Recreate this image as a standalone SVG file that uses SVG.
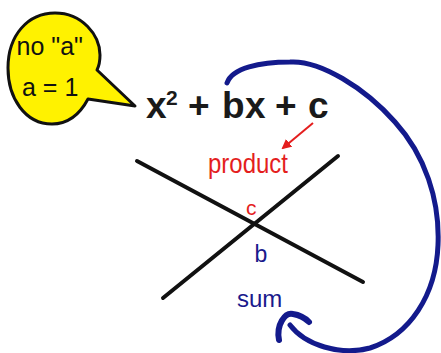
<svg xmlns="http://www.w3.org/2000/svg" width="441" height="353" viewBox="0 0 441 353">
  <defs>
    <style>
      .sans { font-family: "Liberation Sans", Arial, sans-serif; }
      .bubbletxt { font-size: 25px; fill: #111; }
      .eq { font-size: 37px; font-weight: bold; fill: #1a1a1a; }
      .red { fill: #e41e1e; }
      .blue { fill: #1a1a8c; }
      .xline { stroke: #111; stroke-width: 4; stroke-linecap: round; fill: none; }
      .bluestroke { stroke: #131a8c; fill: none; stroke-linecap: round; stroke-linejoin: round; }
    </style>
    <marker id="redhead" viewBox="0 0 10 10" refX="8" refY="5" markerWidth="5" markerHeight="5" orient="auto" markerUnits="strokeWidth">
      <path d="M0 0 L10 5 L0 10 Z" fill="#e41e1e"/>
    </marker>
  </defs>
  <rect width="441" height="353" fill="#ffffff"/>

  <g id="bubble">
    <path d="M 97 70 L 135 106 L 88 99 C 80 114, 68 124, 52 124 C 25 124, 8 98, 8 68 C 8 35, 28 13, 55 13 C 82 13, 100 35, 100 55 C 100 62, 99 66, 97 70 Z" fill="#fff200" stroke="#111" stroke-width="3" stroke-linejoin="round"/>
    <text class="sans bubbletxt" x="16.5" y="55">no "a"</text>
    <text class="sans bubbletxt" x="22" y="96">a = 1</text>
  </g>

  <g id="equation">
    <text class="sans eq" y="118"><tspan x="146">x</tspan><tspan x="188">+</tspan><tspan x="222">b</tspan><tspan x="245">x</tspan><tspan x="275">+</tspan><tspan x="308">c</tspan></text>
    <text class="sans" x="166" y="105" font-size="21" font-weight="bold" fill="#1a1a1a">2</text>
  </g>

  <g id="cross">
    <line class="xline" x1="137" y1="161" x2="363" y2="282"/>
    <line class="xline" x1="163" y1="298" x2="338" y2="156"/>
  </g>

  <g id="labels">
    <text class="sans red" x="208" y="173" font-size="28" textLength="80" lengthAdjust="spacingAndGlyphs">product</text>
    <text class="sans red" x="246" y="215" font-size="21">c</text>
    <text class="sans blue" x="254.5" y="262" font-size="23">b</text>
    <text class="sans blue" x="237" y="307" font-size="24">sum</text>
  </g>

  <g id="connectors">
    <line x1="313" y1="123" x2="283" y2="148" stroke="#e41e1e" stroke-width="2" marker-end="url(#redhead)"/>
    <path class="bluestroke" stroke-width="5" d="M 227 83 C 232 68, 260 62, 290 62 C 320 60, 365 88, 395 122 C 425 155, 440 200, 438 245 C 436 295, 410 335, 370 348 C 340 356, 305 345, 290 325"/>
    <path class="bluestroke" stroke-width="6" d="M 279 340 C 276 325, 285 312, 293 314 C 300 315, 306 319, 309 322"/>
  </g>
</svg>
